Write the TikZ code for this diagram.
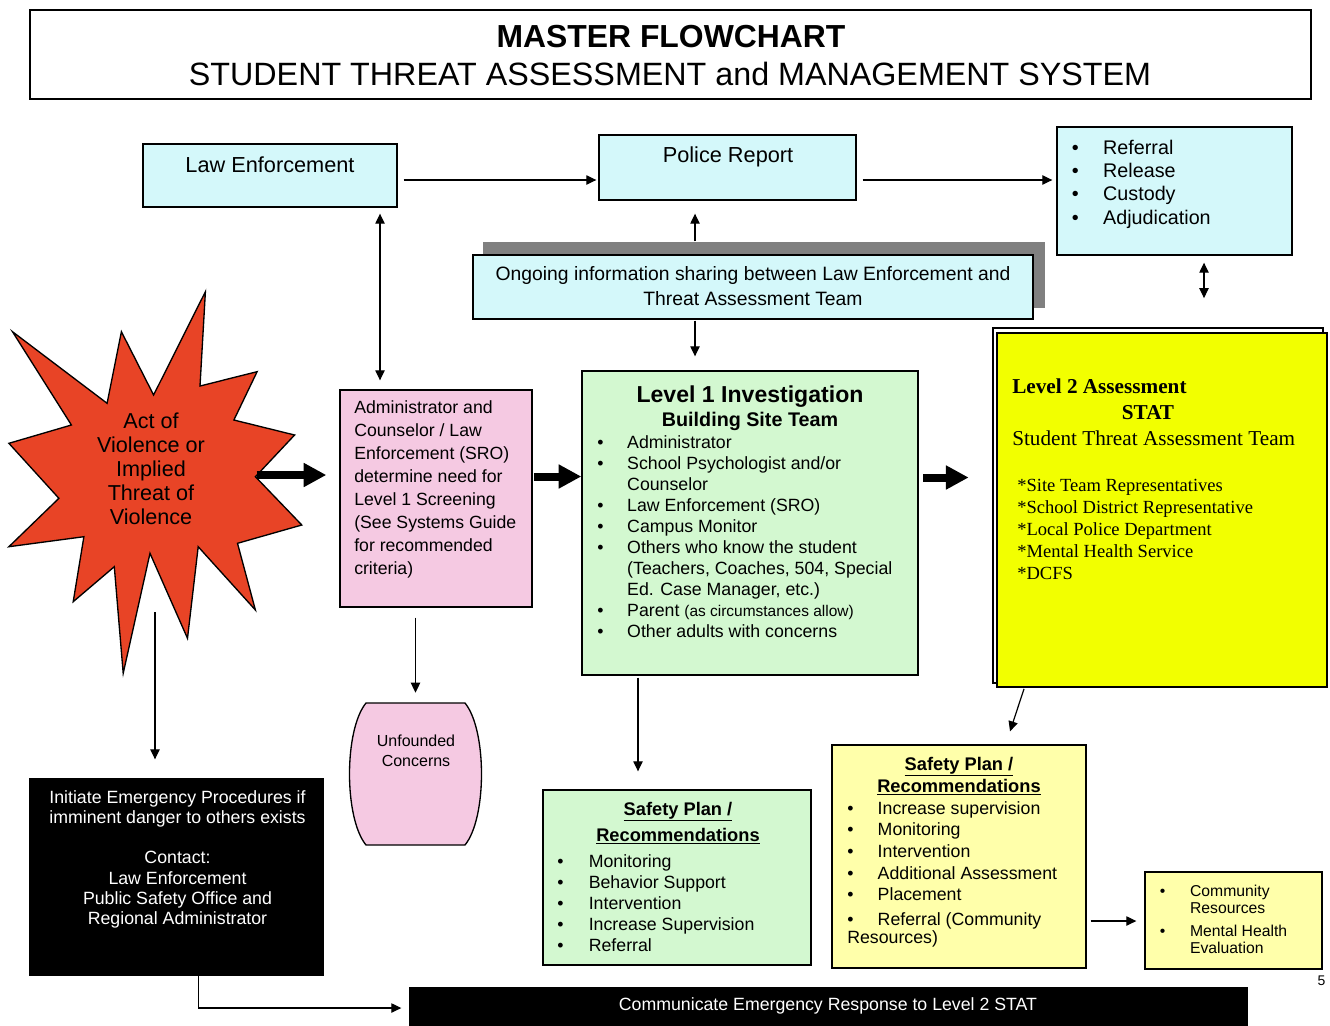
\documentclass[tikz,border=0pt]{standalone}
\usepackage{fontspec}
\setmainfont{Liberation Sans}
\newfontfamily\timesfont{Liberation Serif}
\usetikzlibrary{arrows.meta,fit}

\definecolor{lecyan}{RGB}{212,248,250}
\definecolor{pinkbox}{RGB}{245,201,226}
\definecolor{greenbox}{RGB}{211,248,208}
\definecolor{paleyellow}{RGB}{255,255,170}
\definecolor{statyellow}{RGB}{242,255,0}
\definecolor{starred}{RGB}{232,68,38}
\definecolor{shadowgrey}{RGB}{128,128,128}

\tikzset{
  box/.style={draw=black, line width=1pt, inner sep=0pt},
  arr/.style={line width=0.9pt, -{Triangle[length=7.5pt,width=7pt]}},
  dblarr/.style={line width=0.9pt, {Triangle[length=7.5pt,width=7pt]}-{Triangle[length=7.5pt,width=7pt]}},
  bigarr/.style={line width=6pt, -{Triangle[length=17pt,width=17pt]}},
  txt/.style={inner sep=0pt, anchor=base west},
  ctxt/.style={inner sep=0pt, anchor=base},
}

\begin{document}
\begin{tikzpicture}[x=0.75pt, y=-0.75pt]
  \useasboundingbox (0,0) rectangle (1330,1025);

  % title
  \node[box, line width=2.2pt, fit={(30,10) (1311,99)}] (title) {};
  \node[ctxt, font=\fontsize{23.9}{27}\selectfont\bfseries] (title1) at (671,47) {MASTER FLOWCHART};
  \node[ctxt, font=\fontsize{24.2}{27}\selectfont] (title2) at (670,85) {STUDENT THREAT ASSESSMENT and MANAGEMENT SYSTEM};

  % top row
  \node[box, fill=lecyan, fit={(143,144) (397,207)}] (law) {};
  \node[ctxt, font=\fontsize{16.3}{20}\selectfont] (lawtxt) at (270,172) {Law Enforcement};
  \node[box, fill=lecyan, fit={(599,135) (856,200)}] (police) {};
  \node[ctxt, font=\fontsize{16.3}{20}\selectfont] (policetxt) at (728,162) {Police Report};
  \node[box, fill=lecyan, fit={(1057,127) (1292,255)}] (ref) {};
  \node[txt, font=\fontsize{14.8}{17.5}\selectfont] (reftxt) at (1071.5,154) {\begin{tabular}[t]{@{}l@{\hspace{18.4pt}}l@{}}
    \textbullet & Referral\\
    \textbullet & Release\\
    \textbullet & Custody\\
    \textbullet & Adjudication
  \end{tabular}};

  % information sharing
  \fill[shadowgrey] (483,242) rectangle (1045,308);
  \node[box, fill=lecyan, fit={(473,255) (1033,319)}] (ong) {};
  \node[ctxt, font=\fontsize{14.5}{19.3}\selectfont] (ongtxt) at (753,280) {\begin{tabular}[t]{@{}c@{}}
    Ongoing information sharing between Law Enforcement and\\
    Threat Assessment Team
  \end{tabular}};

  % act of violence
  \node[fit={(8,292) (302,673)}, inner sep=0pt] (star) {};
  \draw[fill=starred, line width=1pt, line join=miter]
    (205.4,291.7) -- (200,386) -- (257.1,371.7) -- (233.9,420) -- (294.6,435)
    -- (255.4,476.7) -- (301.8,525) -- (237.5,543.3) -- (255.4,610) -- (198.2,546.7)
    -- (187.5,638.3) -- (150,553.3) -- (123.2,673.3) -- (114.3,566.7) -- (73.2,601.7)
    -- (83.9,536.7) -- (8.9,546.7) -- (58.9,498.3) -- (8.9,443.3) -- (71.4,425)
    -- (12.5,331.7) -- (107.1,403.3) -- (121.4,331.7) -- (153.6,395) -- cycle;
  \node[ctxt, font=\fontsize{16.2}{18.1}\selectfont] (startxt) at (151,428) {\begin{tabular}[t]{@{}c@{}}
    Act of\\ Violence or\\ Implied\\ Threat of\\ Violence
  \end{tabular}};

  % screening
  \node[box, fill=pinkbox, fit={(340,390) (532,607)}] (admin) {};
  \node[txt, font=\fontsize{13.25}{17.3}\selectfont] (admintxt) at (354,413) {\begin{tabular}[t]{@{}l@{}}
    Administrator and\\ Counselor / Law\\ Enforcement (SRO)\\ determine need for\\
    Level 1 Screening\\ (See Systems Guide\\ for recommended\\ criteria)
  \end{tabular}};

  \node[fit={(352,703) (480,845)}, inner sep=0pt] (unf) {};
  \draw[fill=pinkbox, line width=1pt] (416,703) -- (465,703)
    .. controls (487,730) and (487,818) .. (465,845) -- (366,845)
    .. controls (344,818) and (344,730) .. (366,703) -- cycle;
  \node[ctxt, font=\fontsize{12}{15.5}\selectfont] (unftxt) at (416,746) {\begin{tabular}[t]{@{}c@{}}
    Unfounded\\ Concerns
  \end{tabular}};

  % level 1
  \node[box, fill=greenbox, fit={(582,371) (918,675)}] (lvl1) {};
  \node[ctxt, font=\fontsize{17.3}{20}\selectfont\bfseries] (lvl1a) at (750,402) {Level 1 Investigation};
  \node[ctxt, font=\fontsize{14.8}{18}\selectfont\bfseries] (lvl1b) at (750,426) {Building Site Team};
  \node[txt, font=\fontsize{13.3}{15.8}\selectfont] (lvl1list) at (597,448) {\begin{tabular}[t]{@{}l@{\hspace{17.8pt}}l@{}}
    \textbullet & Administrator\\
    \textbullet & School Psychologist and/or\\
                & Counselor\\
    \textbullet & Law Enforcement (SRO)\\
    \textbullet & Campus Monitor\\
    \textbullet & Others who know the student\\
                & (Teachers, Coaches, 504, Special\\
                & Ed. Case Manager, etc.)\\
    \textbullet & Parent {\fontsize{11.6}{15.8}\selectfont(as circumstances allow)}\\
    \textbullet & Other adults with concerns
  \end{tabular}};

  % level 2
  \draw[fill=white, line width=1pt] (993,328) rectangle (1323,683);
  \node[box, fill=statyellow, line width=1.3pt, fit={(997,333) (1327,687)}] (lvl2) {};
  \node[txt, font=\timesfont\fontsize{15.9}{19}\selectfont\bfseries] (lvl2a) at (1012,393) {Level 2 Assessment};
  \node[ctxt, font=\timesfont\fontsize{15.9}{19}\selectfont\bfseries] (lvl2b) at (1148,419) {STAT};
  \node[txt, font=\timesfont\fontsize{15.9}{19}\selectfont] (lvl2c) at (1012,445) {Student Threat Assessment Team};
  \node[txt, font=\timesfont\fontsize{13.9}{16.5}\selectfont] (lvl2list) at (1017,491) {\begin{tabular}[t]{@{}l@{}}
    {*}Site Team Representatives\\
    {*}School District Representative\\
    {*}Local Police Department\\
    {*}Mental Health Service\\
    {*}DCFS
  \end{tabular}};

  % emergency
  \node[box, fill=black, fit={(30,779) (323,975)}] (black) {};
  \node[ctxt, text=white, font=\fontsize{13.3}{15.2}\selectfont] (blacktxt) at (177.5,803) {\begin{tabular}[t]{@{}c@{}}
    Initiate Emergency Procedures if\\ imminent danger to others exists\\ \\
    Contact:\\ Law Enforcement\\ Public Safety Office and\\ Regional Administrator
  \end{tabular}};
  \node[box, fill=black, fit={(410,988) (1247,1025)}] (bar) {};
  \node[ctxt, text=white, font=\fontsize{13.3}{16}\selectfont] (bartxt) at (828,1010) {Communicate Emergency Response to Level 2 STAT};

  % safety plans
  \node[box, fill=greenbox, fit={(543,790) (811,965)}] (safe1) {};
  \node[ctxt, font=\fontsize{13.7}{19.5}\selectfont\bfseries] (safe1a) at (678,815) {\begin{tabular}[t]{@{}c@{}}
    \underline{Safety Plan /}\\ \underline{Recommendations}
  \end{tabular}};
  \node[txt, font=\fontsize{13.3}{15.9}\selectfont] (safe1list) at (557,867) {\begin{tabular}[t]{@{}l@{\hspace{19pt}}l@{}}
    \textbullet & Monitoring\\
    \textbullet & Behavior Support\\
    \textbullet & Intervention\\
    \textbullet & Increase Supervision\\
    \textbullet & Referral
  \end{tabular}};

  \node[box, fill=paleyellow, fit={(832,745) (1086,968)}] (safe2) {};
  \node[ctxt, font=\fontsize{13.7}{17}\selectfont\bfseries] (safe2a) at (959,770) {\begin{tabular}[t]{@{}c@{}}
    \underline{Safety Plan /}\\ \underline{Recommendations}
  \end{tabular}};
  \node[txt, font=\fontsize{13.3}{16.3}\selectfont] (safe2list) at (847,814) {\begin{tabular}[t]{@{}l@{\hspace{18.2pt}}l@{}}
    \textbullet & Increase supervision\\
    \textbullet & Monitoring\\
    \textbullet & Intervention\\
    \textbullet & Additional Assessment\\
    \textbullet & Placement\\[1.9pt]
    \textbullet & Referral (Community\\[-2.5pt]
    \multicolumn{2}{@{}l}{Resources)}
  \end{tabular}};

  \node[box, fill=paleyellow, fit={(1145,872) (1322,969)}] (comm) {};
  \node[txt, font=\fontsize{11.8}{13}\selectfont] (commlist) at (1159.5,896) {\begin{tabular}[t]{@{}l@{\hspace{18.6pt}}l@{}}
    \textbullet & Community\\
                & Resources\\[4pt]
    \textbullet & Mental Health\\
                & Evaluation
  \end{tabular}};

  \node[ctxt, font=\fontsize{10.5}{12}\selectfont] (pagenum) at (1321.5,985) {5};

  % connectors
  \draw[arr] ([shift={(6,4.5)}]law.east) -- ([shift={(-2,12.5)}]police.west);
  \draw[arr] ([shift={(6,12.5)}]police.east) -- ([shift={(-4,-11)}]ref.west);
  \draw[dblarr] ([shift={(110,6)}]law.south) -- ([shift={(-56,-9)}]admin.north);
  \draw[arr] ([shift={(-58,-13)}]ong.north) -- ([shift={(-32.5,13)}]police.south);
  \draw[arr] ([shift={(-58,1)}]ong.south) -- ([shift={(-55,-14)}]lvl1.north);
  \draw[dblarr] ([shift={(29.5,7)}]ref.south) -- ([shift={(42,-34)}]lvl2.north);
  \draw[arr] ([shift={(0,129.5)}]star.center) -- ([shift={(-21.5,-19)}]black.north);
  \draw[arr] ([shift={(-20.5,10)}]admin.south) -- ([shift={(-0.5,-10)}]unf.north);
  \draw[arr] ([shift={(-112,2)}]lvl1.south) -- ([shift={(-39,-18)}]safe1.north);
  \draw[arr] ([shift={(-138,1)}]lvl2.south) -- ([shift={(51,-13)}]safe2.north);
  \draw[arr] ([shift={(4,64.5)}]safe2.east) -- ([shift={(-8,0.5)}]comm.west);
  \draw[arr] ([shift={(22,0)}]black.south) |- ([shift={(-8,1.5)}]bar.west);

  \draw[bigarr] ([shift={(101.5,-7.5)}]star.center) -- ([shift={(-13,-23.5)}]admin.west);
  \draw[bigarr] ([shift={(1.5,-22)}]admin.east) -- ([shift={(0,-46.5)}]lvl1.west);
  \draw[bigarr] ([shift={(4.5,-45.5)}]lvl1.east) -- ([shift={(-27.5,-32.5)}]lvl2.west);
\end{tikzpicture}
\end{document}
